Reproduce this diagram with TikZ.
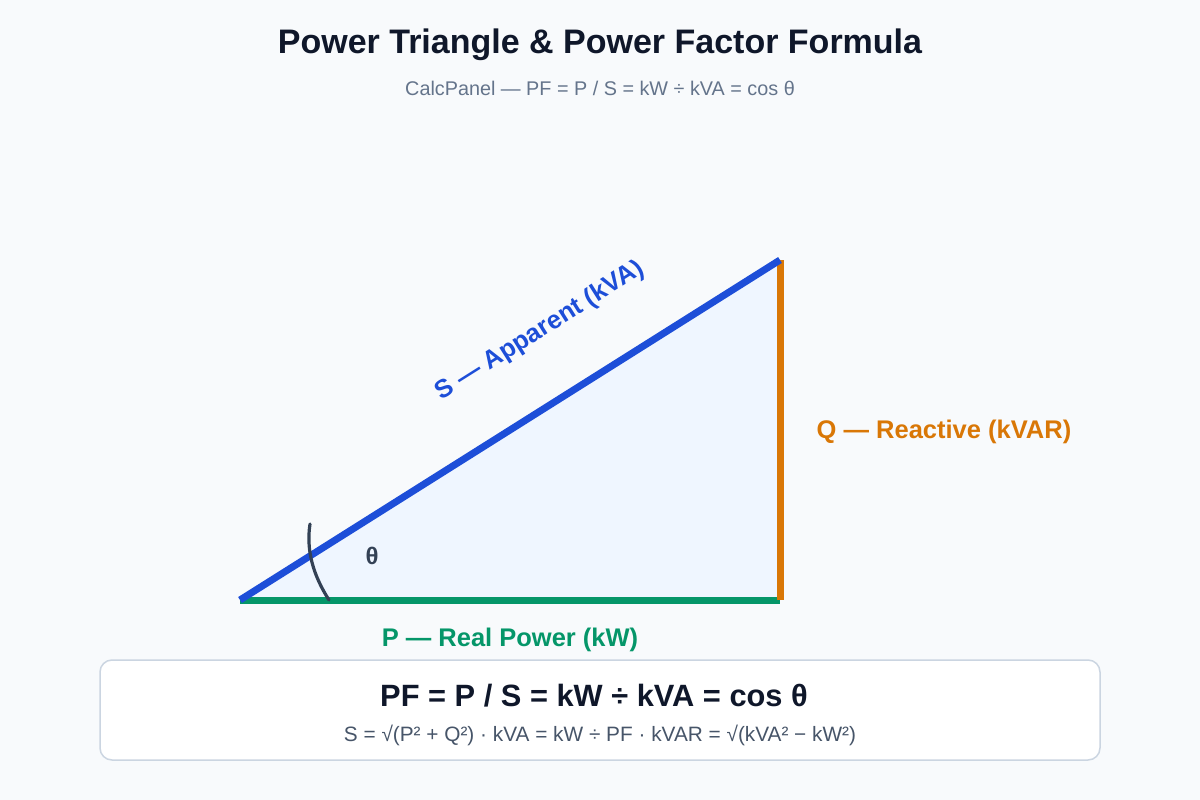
\documentclass[tikz,border=0pt]{standalone}
\usepackage{fontspec}
\setmainfont{Liberation Sans}
\definecolor{bg}{HTML}{F8FAFC}
\definecolor{titlec}{HTML}{0F172A}
\definecolor{subc}{HTML}{64748B}
\definecolor{fillc}{HTML}{EFF6FF}
\definecolor{bluec}{HTML}{1D4ED8}
\definecolor{greenc}{HTML}{059669}
\definecolor{orangec}{HTML}{D97706}
\definecolor{slatec}{HTML}{334155}
\definecolor{boxline}{HTML}{CBD5E1}
\definecolor{formc}{HTML}{475569}
\tikzset{
  side/.style={line width=7pt},
  lbl/.style={font=\fontsize{25.5}{30}\selectfont\bfseries, inner sep=0pt},
}
\begin{document}
\begin{tikzpicture}[x=1pt,y=-1pt]
\useasboundingbox[fill=bg] (0,0) rectangle (1200,800);
\node[font=\fontsize{34}{40}\selectfont\bfseries, text=titlec] (title) at (600,45) {Power Triangle \& Power Factor Formula};
\node[font=\fontsize{19.8}{24}\selectfont, text=subc] (sub) at (600,88) {CalcPanel — PF = P / S = kW ÷ kVA = cos θ};
\coordinate (A) at (240,600);
\coordinate (B) at (780,600);
\coordinate (C) at (780,260);
\fill[fillc] (A) -- (B) -- (C) -- cycle;
\draw[side, greenc] (A) -- (B);
\draw[side, orangec] (B) -- (C);
\draw[side, bluec] (A) -- (C);
\coordinate (a1) at (329,600);
\coordinate (a2) at (310,524);
\draw[line width=3.2pt, slatec, line cap=round] (a1) .. controls (313,575) and (306,550) .. (a2);
\node[lbl, text=slatec, font=\fontsize{24}{28}\selectfont\bfseries] (theta) at (372,556) {θ};
\node[lbl, text=bluec, rotate=32.2] (slbl) at (540,331) {S — Apparent (kVA)};
\node[lbl, text=orangec] (qlbl) at (944,432) {Q — Reactive (kVAR)};
\node[lbl, text=greenc] (plbl) at (510,640) {P — Real Power (kW)};
\draw[boxline, fill=white, line width=1.5pt, rounded corners=12pt] (100,660) rectangle (1100,760);
\node[font=\fontsize{30.8}{36}\selectfont\bfseries, text=titlec] (pf) at (594,696) {PF = P / S = kW ÷ kVA = cos θ};
\node[font=\fontsize{20.8}{24}\selectfont, text=formc] (eqs) at (600,735) {S = √(P² + Q²) · kVA = kW ÷ PF · kVAR = √(kVA² − kW²)};
\end{tikzpicture}
\end{document}
